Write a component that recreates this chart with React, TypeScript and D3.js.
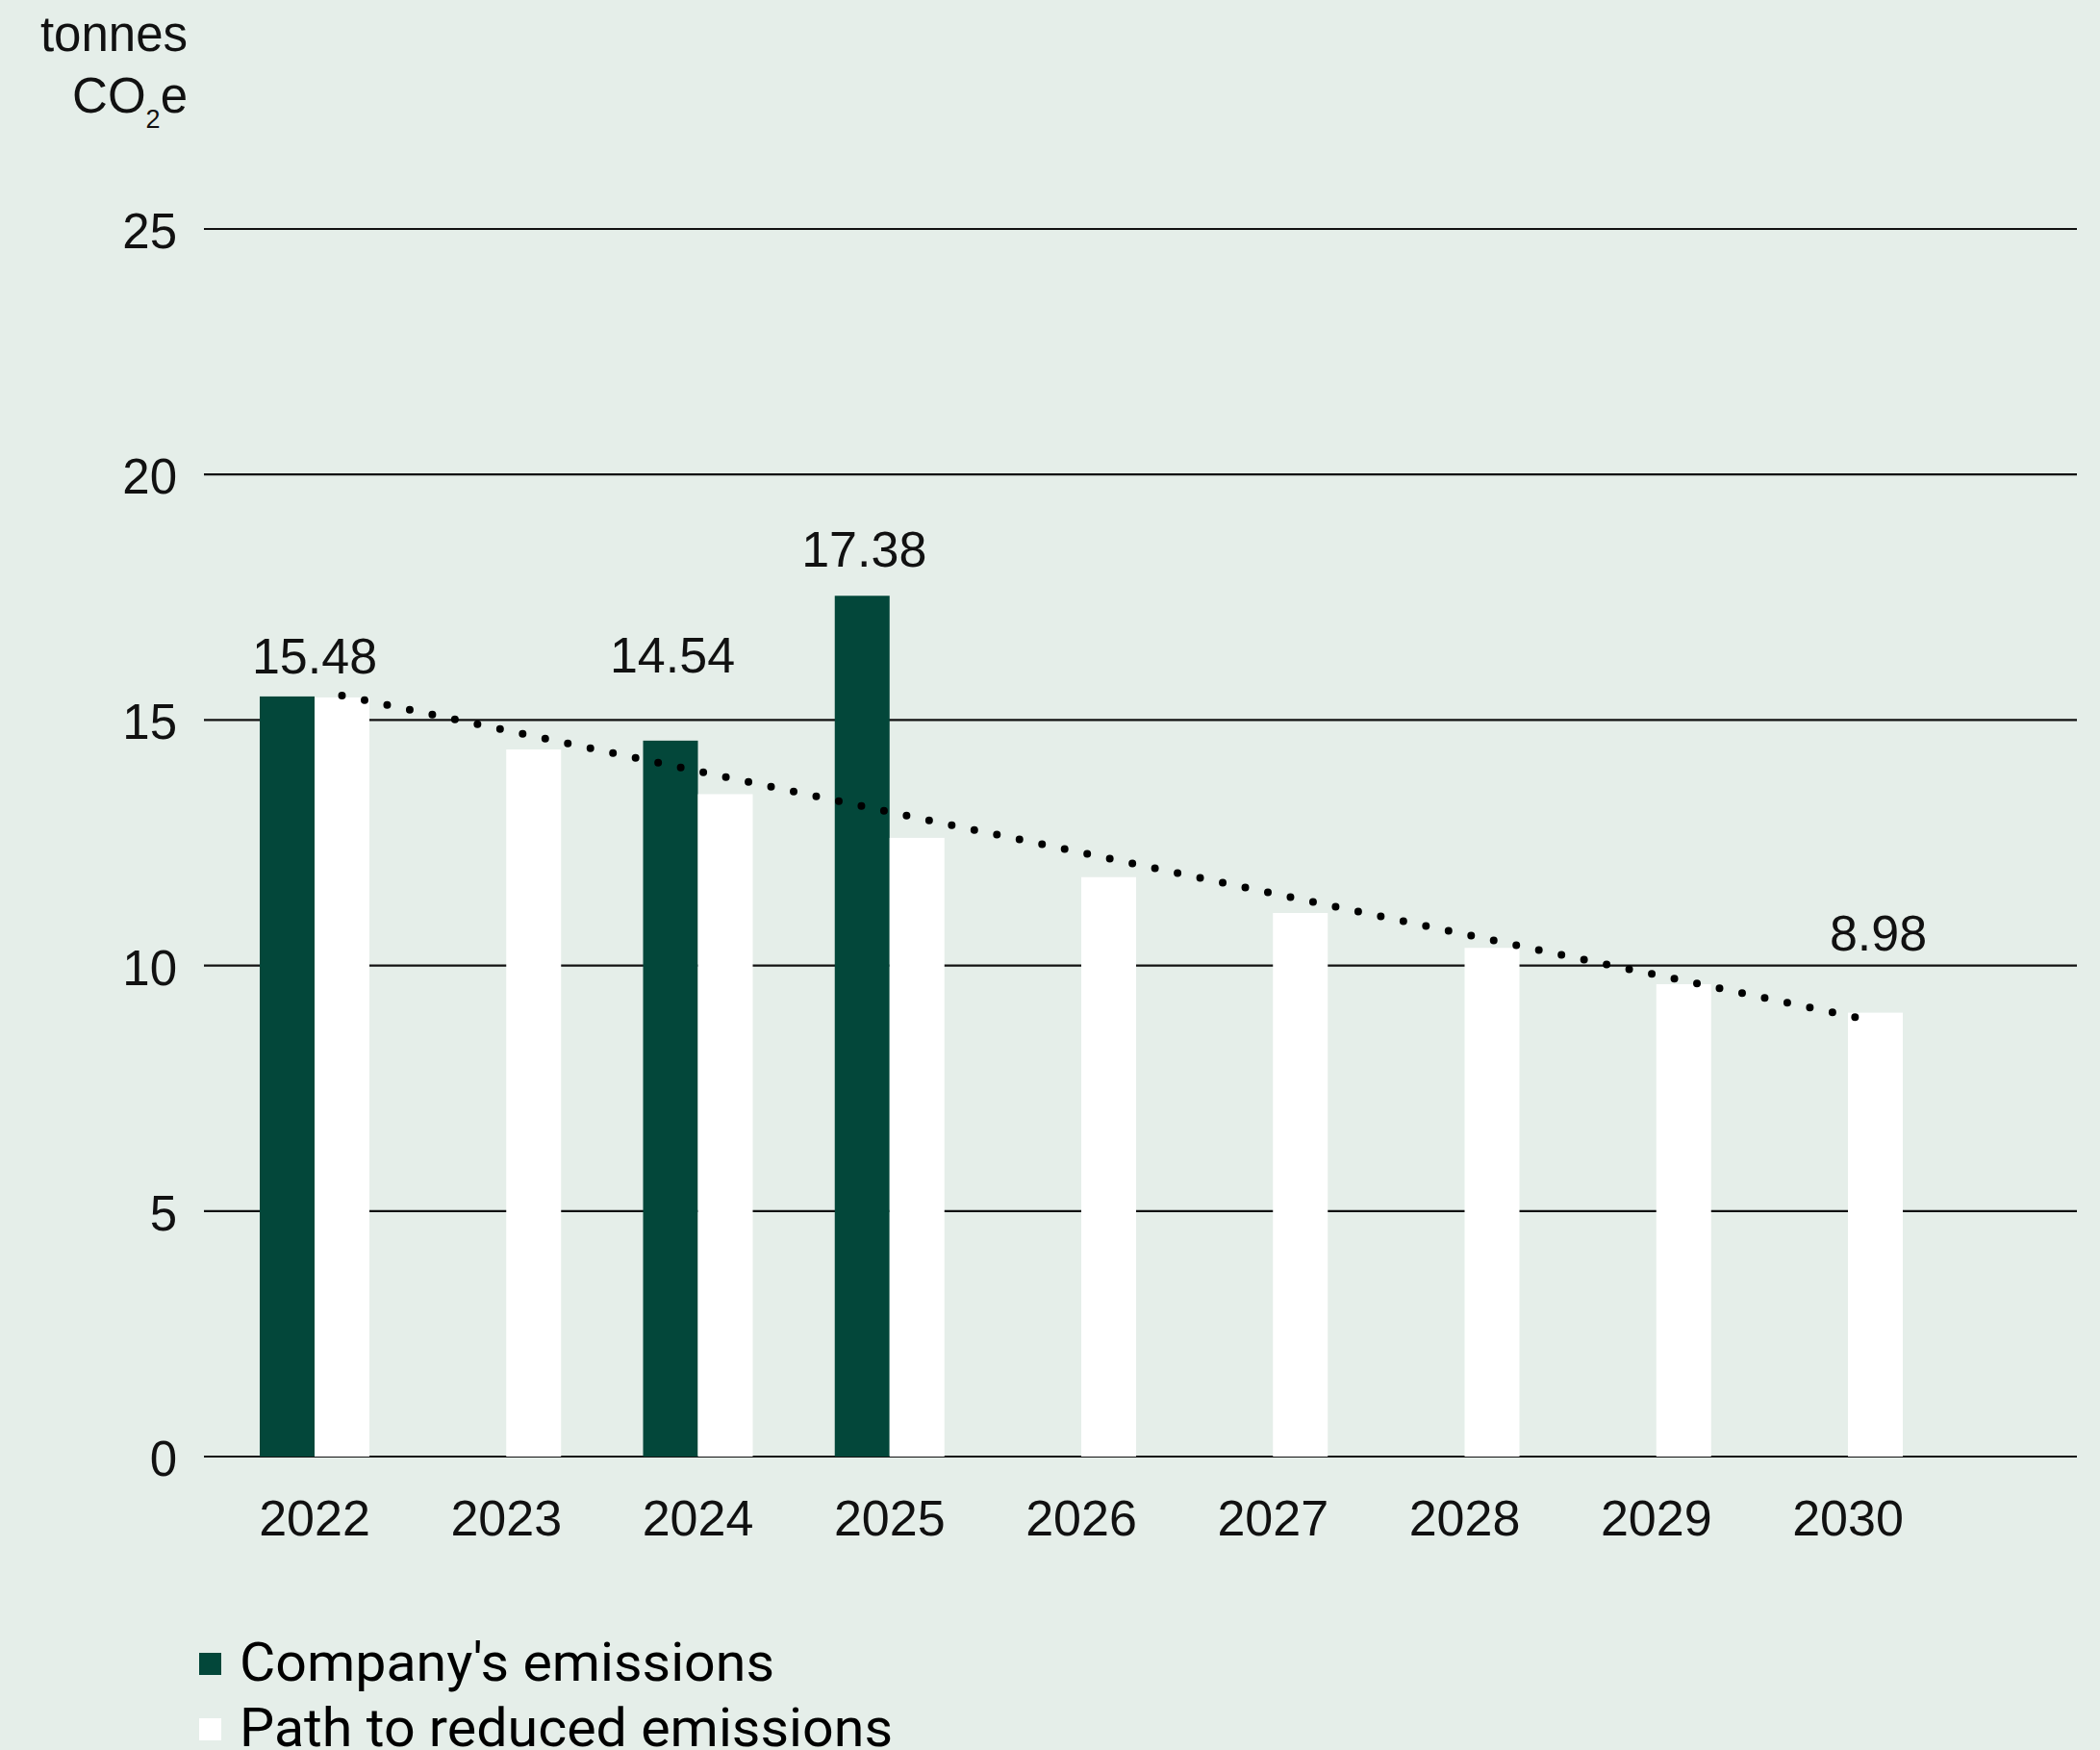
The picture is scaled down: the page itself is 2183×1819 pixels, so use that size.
import React from "react";
import * as d3 from "d3";

const years = ["2022", "2023", "2024", "2025", "2026", "2027", "2028", "2029", "2030"];
const companyEmissions: (number | null)[] = [15.48, null, 14.58, 17.53, null, null, null, null, null];
const pathEmissions = [15.46, 14.4, 13.49, 12.6, 11.8, 11.07, 10.36, 9.62, 9.04];
const trendYears = ["2022", "2030"];
const trendValues = [15.5, 8.86];
const yTicks = [0, 5, 10, 15, 20, 25];
const valueLabels = ["15.48", "14.54", "17.38", "8.98"];
const valueLabelYears = ["2022", "2024", "2025", "2030"];
const valueLabelSeries = ["both", "company", "company", "path"];
const legendLabels = ["Company's emissions", "Path to reduced emissions"];

const W = 2183;
const H = 1819;
const BG = "#e5eee9";
const DARK = "#03473a";
const NUM_FONT = "'Helvetica Neue', 'Liberation Sans', Arial, sans-serif";
const LEG_FONT = "Roboto, 'Noto Sans', sans-serif";

// layout only (pixel offsets of value labels above their bar top)
const labelDy = [-24, -71, -30, -65];

export default function App() {
  const y = d3.scaleLinear().domain([0, 25]).range([1514, 238]);
  const x = d3.scalePoint<string>().domain(years).range([327, 1921]);
  const bw = 57;
  const gridX0 = 212;
  const gridX1 = 2159;

  const trendLine = d3
    .line<number>()
    .x((_, i) => (x(trendYears[i]) as number) + bw / 2)
    .y((v) => y(v));

  return (
    <div style={{ position: "absolute", left: 0, top: 0, width: W, height: H }}>
      <svg width={W} height={H} style={{ display: "block" }}>
        <rect x={0} y={0} width={W} height={H} fill={BG} />
        {/* y-axis title */}
        <text x={195} y={53} textAnchor="end" fontFamily={NUM_FONT} fontSize={51} fill="#111">
          tonnes
        </text>
        <text x={195} y={117} textAnchor="end" fontFamily={NUM_FONT} fontSize={51} fill="#111">
          CO
          <tspan fontSize={27} dy={16}>2</tspan>
          <tspan dy={-16}>e</tspan>
        </text>
        {/* gridlines + tick labels */}
        {yTicks.map((t) => (
          <g key={t}>
            <line x1={gridX0} x2={gridX1} y1={y(t)} y2={y(t)} stroke="#111" strokeWidth={2.2} />
            <text
              x={184}
              y={y(t) + 20}
              textAnchor="end"
              fontFamily={NUM_FONT}
              fontSize={51}
              fill="#111"
            >
              {t}
            </text>
          </g>
        ))}
        {/* bars */}
        {years.map((yr, i) => {
          const cx = x(yr) as number;
          const c = companyEmissions[i];
          const p = pathEmissions[i];
          return (
            <g key={yr}>
              {c != null && (
                <rect x={cx - bw} y={y(c)} width={bw} height={y(0) - y(c)} fill={DARK} />
              )}
              <rect x={cx} y={y(p)} width={bw} height={y(0) - y(p)} fill="#ffffff" />
              <text
                x={cx}
                y={1596}
                textAnchor="middle"
                fontFamily={NUM_FONT}
                fontSize={52}
                fill="#111"
              >
                {yr}
              </text>
            </g>
          );
        })}
        {/* trend dotted line */}
        <path
          d={trendLine(trendValues) || ""}
          fill="none"
          stroke="#000"
          strokeWidth={8}
          strokeLinecap="round"
          strokeDasharray="0 24"
        />
        {/* value labels */}
        {valueLabels.map((lab, j) => {
          const yr = valueLabelYears[j];
          const i = years.indexOf(yr);
          const cx = x(yr) as number;
          const series = valueLabelSeries[j];
          const v = series === "path" ? pathEmissions[i] : (companyEmissions[i] as number);
          const lx = series === "both" ? cx : series === "company" ? cx - bw / 2 + 2 : cx + bw / 2 + 3;
          return (
            <text
              key={lab}
              x={lx}
              y={y(v) + labelDy[j]}
              textAnchor="middle"
              fontFamily={NUM_FONT}
              fontSize={52}
              fill="#111"
            >
              {lab}
            </text>
          );
        })}
        {/* legend */}
        {legendLabels.map((lab, i) => (
          <g key={lab} transform={`translate(207, ${1718 + i * 68})`}>
            <rect x={0} y={0} width={23} height={23} fill={i === 0 ? DARK : "#ffffff"} />
            <text
              x={42}
              y={29}
              fontFamily={LEG_FONT}
              fontWeight={400}
              fontSize={55}
              fill="#000"
              textLength={i === 0 ? 556 : 679}
              lengthAdjust="spacingAndGlyphs"
            >
              {lab}
            </text>
          </g>
        ))}
      </svg>
    </div>
  );
}
